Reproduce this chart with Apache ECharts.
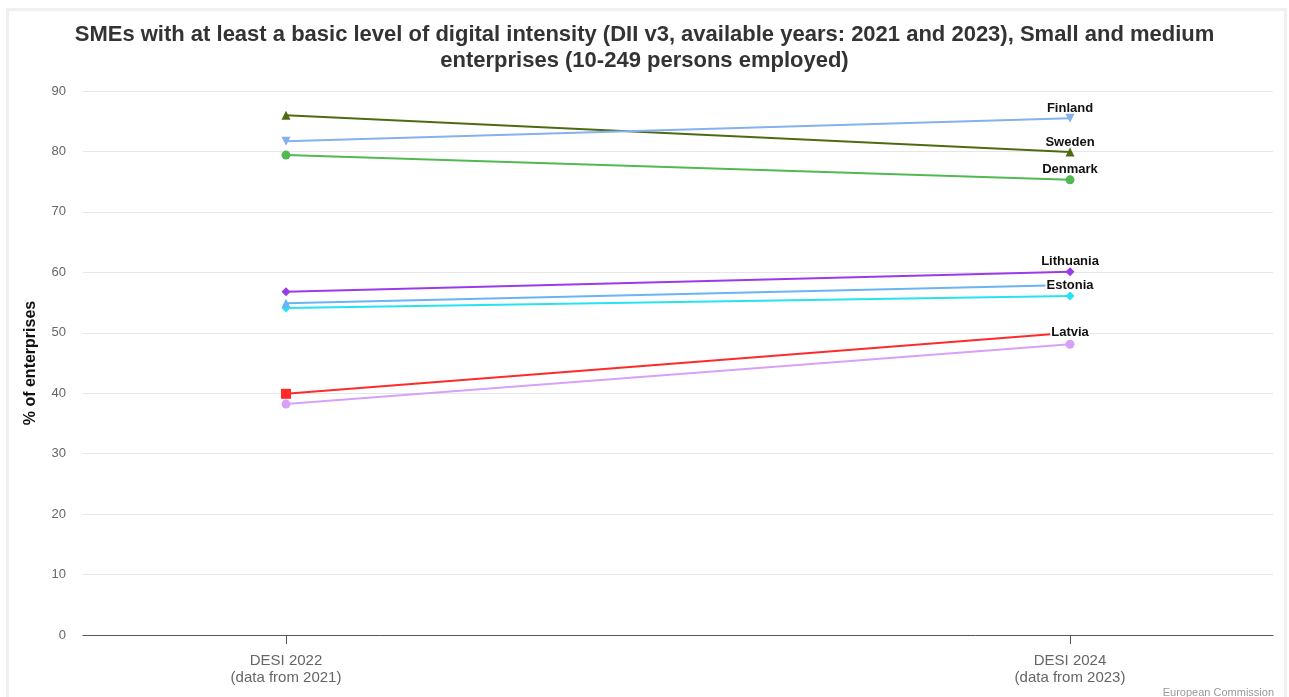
<!DOCTYPE html>
<html>
<head>
<meta charset="utf-8">
<title>SMEs digital intensity</title>
<script src="https://cdn.jsdelivr.net/npm/echarts@6/dist/echarts.min.js"></script>
<style>
  html, body { margin: 0; padding: 0; background: #fff; }
  #chart { width: 1289px; height: 697px; }
</style>
</head>
<body>
<div id="chart"></div>
<script>
// tick labels of the two DESI editions
const periods = ['DESI 2022\n(data from 2021)', 'DESI 2024\n(data from 2023)']

// one entry per line, top to bottom at the right end
const countries = ['Finland', 'Sweden', 'Denmark', 'Lithuania', 'Estonia', 'unlabelled-cyan', 'Latvia', 'unlabelled-lilac']
const values2021 = [81.7, 86.0, 79.4, 56.8, 54.9, 54.1, 39.9, 38.2]
const values2023 = [85.5, 79.9, 75.3, 60.1, 57.9, 56.1, 50.0, 48.1]
const showLabel = [true, true, true, true, true, false, true, false]

// styles
const colors = ['#86b0ee', '#4f6b12', '#52b952', '#9a3bea', '#6ab4f5', '#27e3f2', '#ff2a2a', '#d9a0f7']
const symbols = ['triangle', 'triangle', 'circle', 'diamond', 'triangle', 'diamond', 'rect', 'circle']
const rotations = [180, 0, 0, 0, 0, 0, 0, 0]
const labelPos = ['top', 'top', 'top', 'top', 'inside', 'inside', 'inside', 'inside']

const chart = echarts.init(document.getElementById('chart'))

const series = countries.map(function(name, i) {
  const onTop = labelPos[i] === 'top'
  return {
    name: name,
    type: 'line',
    z: 10 - i,
    data: [
      [0, values2021[i]],
      {
        value: [1, values2023[i]],
        label: {
          show: showLabel[i],
          position: labelPos[i],
          distance: 1,
          offset: onTop ? [0, 2] : [0, 0],
          formatter: name,
          color: '#111',
          fontWeight: 'bold',
          fontSize: 13,
          fontFamily: 'Liberation Sans, Arial, sans-serif',
          backgroundColor: onTop ? 'transparent' : '#fff',
          padding: [0, 1]
        }
      }
    ],
    symbol: symbols[i],
    symbolRotate: rotations[i],
    symbolSize: symbols[i] === 'rect' ? 10 : 9,
    showAllSymbol: true,
    lineStyle: { color: colors[i], width: 2 },
    itemStyle: { color: colors[i] },
    emphasis: { disabled: true },
    animation: false
  }
})

chart.setOption({
  backgroundColor: '#fff',
  textStyle: { fontFamily: 'Liberation Sans, Arial, sans-serif' },
  title: {
    text: 'SMEs with at least a basic level of digital intensity (DII v3, available years: 2021 and 2023), Small and medium\nenterprises (10-249 persons employed)',
    left: 'center',
    top: 17,
    textStyle: {
      fontSize: 22,
      fontWeight: 'bold',
      color: '#333',
      lineHeight: 26,
      fontFamily: 'Liberation Sans, Arial, sans-serif'
    }
  },
  graphic: [
    {
      type: 'rect',
      shape: { x: 7.5, y: 9.5, width: 1278, height: 700 },
      style: { fill: 'none', stroke: '#f0f0f0', lineWidth: 3 },
      silent: true
    },
    {
      type: 'text',
      right: 15,
      top: 687,
      style: {
        text: 'European Commission',
        fill: '#999',
        fontSize: 11,
        fontFamily: 'Liberation Sans, Arial, sans-serif'
      }
    }
  ],
  grid: { left: 83, right: 16, top: 91, bottom: 62 },
  xAxis: {
    type: 'value',
    min: -0.2589,
    max: 1.2589,
    splitLine: { show: false },
    axisLine: { show: true, lineStyle: { color: '#555', width: 1 } },
    axisTick: { show: true, customValues: [0, 1], length: 9, lineStyle: { color: '#555' } },
    axisLabel: {
      customValues: [0, 1],
      formatter: function(v) { return periods[Math.round(v)] },
      color: '#666',
      fontSize: 15,
      lineHeight: 17,
      margin: 17,
      align: 'center'
    }
  },
  yAxis: {
    type: 'value',
    min: 0,
    max: 90,
    interval: 10,
    name: '% of enterprises',
    nameLocation: 'middle',
    nameGap: 44,
    nameTextStyle: { color: '#111', fontWeight: 'bold', fontSize: 16 },
    axisLine: { show: false },
    axisTick: { show: false },
    axisLabel: { color: '#666', fontSize: 13, margin: 17 },
    splitLine: { lineStyle: { color: '#e6e6e6', width: 1 } }
  },
  tooltip: { show: false },
  series: series
})
</script>
</body>
</html>
